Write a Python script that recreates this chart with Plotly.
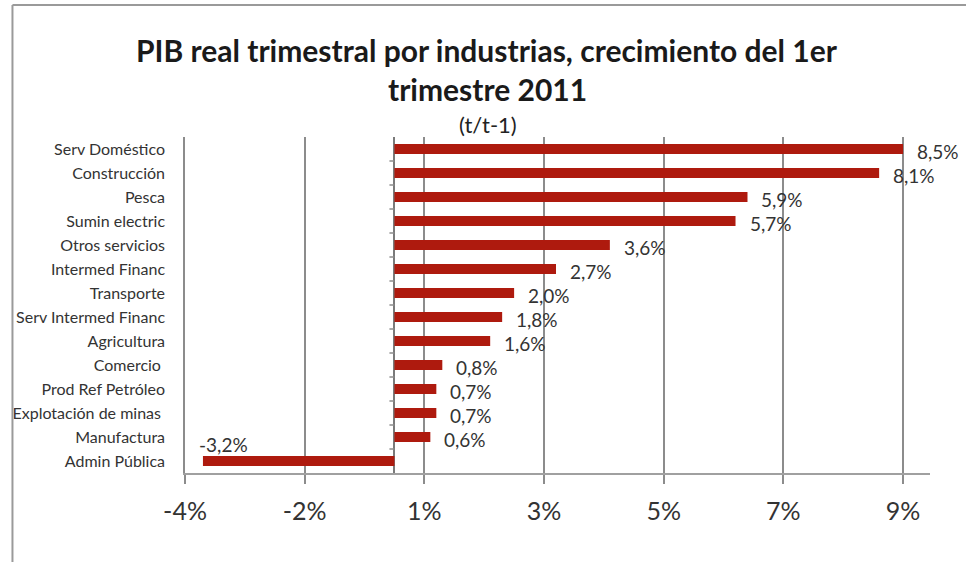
import plotly.graph_objects as go

# Industries, top to bottom, and their quarterly real GDP growth (%)
industrias = [
    "Serv Doméstico", "Construcción", "Pesca", "Sumin electric", "Otros servicios",
    "Intermed Financ", "Transporte", "Serv Intermed Financ", "Agricultura", "Comercio ",
    "Prod Ref Petróleo", "Explotación de minas ", "Manufactura", "Admin Pública",
]
crecimiento = [8.5, 8.1, 5.9, 5.7, 3.6, 2.7, 2.0, 1.8, 1.6, 0.8, 0.7, 0.7, 0.6, -3.2]

# Value-axis ticks and the labels shown for them
x_ticks = [-3.5, -1.5, 0.5, 2.5, 4.5, 6.5, 8.5]
x_tick_labels = ["-4%", "-2%", "1%", "3%", "5%", "7%", "9%"]

W, H = 966, 562
ML, MR, MT, MB = 183, 36, 137, 89
FONT = "Lato"
BAR = "#AE1A0E"
GRID = "#8c8c8c"
TXT = "#333333"


def px(xp):
    return (xp - ML) / (W - ML - MR)


def py(yp):
    return (H - MB - yp) / (H - MT - MB)


pos = list(range(len(industrias)))

fig = go.Figure(
    go.Bar(
        x=crecimiento,
        y=pos,
        orientation="h",
        width=0.42,
        marker=dict(color=BAR, line=dict(width=0)),
        hoverinfo="skip",
    )
)

# Value labels with comma decimals
for i, v in enumerate(crecimiento):
    txt = f"{v:.1f}%".replace(".", ",")
    if v >= 0:
        fig.add_annotation(x=v, y=i, text=txt, showarrow=False, xanchor="left",
                           xshift=12, yshift=-2, font=dict(family=FONT, size=19, color=TXT))
    else:
        fig.add_annotation(x=v, y=i, text=txt, showarrow=False, xanchor="left",
                           xshift=-6, yshift=17, font=dict(family=FONT, size=19, color=TXT))

# Small category tick marks on the zero line
for i in range(len(industrias) - 1):
    fig.add_shape(type="line", xref="x", yref="y", xsizemode="pixel", xanchor=0,
                  x0=-5, x1=0, y0=i + 0.5, y1=i + 0.5,
                  line=dict(color=GRID, width=1.5), layer="above")

# Title lines
fig.add_annotation(xref="paper", yref="paper", x=px(486), y=py(50), yanchor="middle",
                   text="<b>PIB real trimestral por industrias, crecimiento del 1er</b>",
                   showarrow=False, font=dict(family=FONT, size=30, color="#1a1a1a"))
fig.add_annotation(xref="paper", yref="paper", x=px(486), y=py(89), yanchor="middle",
                   text="<b>trimestre 2011</b>",
                   showarrow=False, font=dict(family=FONT, size=30, color="#1a1a1a"))
fig.add_annotation(xref="paper", yref="paper", x=px(487), y=py(125), yanchor="middle",
                   text="(t/t-1)",
                   showarrow=False, font=dict(family=FONT, size=22, color="#222222"))

# Outer chart frame
fig.add_shape(type="line", xref="paper", yref="paper",
              x0=px(10), x1=px(975), y0=py(5), y1=py(5),
              line=dict(color="#9a9a9a", width=2))
fig.add_shape(type="line", xref="paper", yref="paper",
              x0=px(10), x1=px(10), y0=py(5), y1=py(575),
              line=dict(color="#9a9a9a", width=2))

fig.update_layout(
    width=W, height=H,
    margin=dict(l=ML, r=MR, t=MT, b=MB),
    paper_bgcolor="white", plot_bgcolor="white",
    showlegend=False,
    xaxis=dict(
        range=[-3.5, 8.95],
        tickvals=x_ticks, ticktext=x_tick_labels,
        showgrid=True, gridcolor=GRID, gridwidth=1.5,
        zeroline=True, zerolinecolor="#7a7a7a", zerolinewidth=2,
        showline=True, linecolor="#a0a0a0", linewidth=2,
        ticks="outside", ticklen=9, tickcolor=GRID, tickwidth=1.5,
        ticklabelstandoff=6,
        tickfont=dict(family=FONT, size=25, color=TXT),
        fixedrange=True,
    ),
    yaxis=dict(
        range=[len(industrias) - 0.5, -0.5],
        tickvals=pos, ticktext=industrias,
        showgrid=False, zeroline=False,
        showline=True, linecolor=GRID, linewidth=1.5,
        ticks="", ticklabelstandoff=15,
        tickfont=dict(family=FONT, size=16, color=TXT),
        fixedrange=True,
    ),
)

fig.write_html("out.html")
